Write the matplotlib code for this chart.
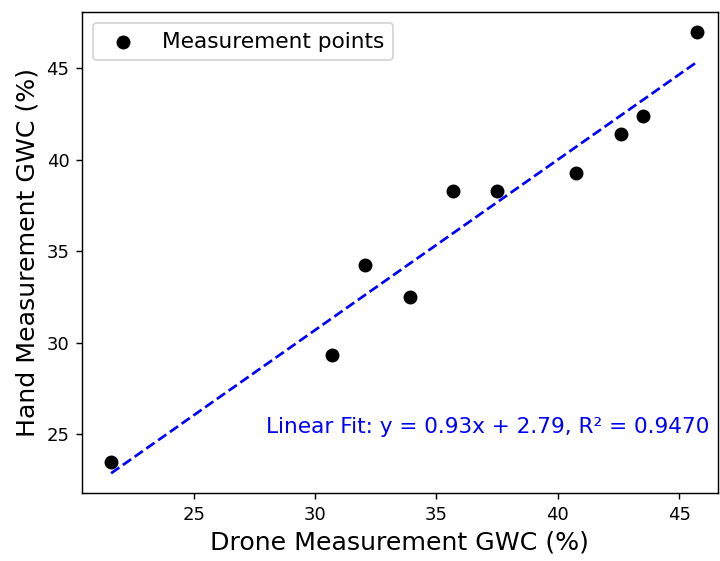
import numpy as np
import matplotlib.pyplot as plt

# drone vs hand GWC measurements (%)
drone_gwc = np.array([21.6, 30.7, 32.05, 33.9, 35.7, 37.5, 40.75, 42.6, 43.5, 45.75])
hand_gwc = np.array([23.5, 29.35, 34.25, 32.5, 38.3, 38.3, 39.25, 41.4, 42.35, 46.95])

# fit parameters
slope = 0.93
intercept = 2.79
r2 = 0.9470

fig = plt.figure(figsize=(720/130, 561/130), dpi=130)
ax = fig.add_axes([82/720, 1-493/561, 636/720, 481/561])

ax.scatter(drone_gwc, hand_gwc, color='black', s=45, label='Measurement points', zorder=3)

xfit = np.linspace(drone_gwc.min(), drone_gwc.max(), 100)
ax.plot(xfit, slope*xfit + intercept, color='blue', linestyle='--', linewidth=1.5)

ax.text(0.987, 0.137, f'Linear Fit: y = {slope:.2f}x + {intercept:.2f}, R\u00b2 = {r2:.4f}',
        transform=ax.transAxes, ha='right', va='center', color='blue', fontsize=12)

ax.set_xlim(20.4, 46.6)
ax.set_ylim(21.8, 48.05)
ax.set_xlabel('Drone Measurement GWC (%)', fontsize=14)
ax.set_ylabel('Hand Measurement GWC (%)', fontsize=14)
ax.legend(loc='upper left', fontsize=12)

plt.savefig('out.png', dpi=130)
